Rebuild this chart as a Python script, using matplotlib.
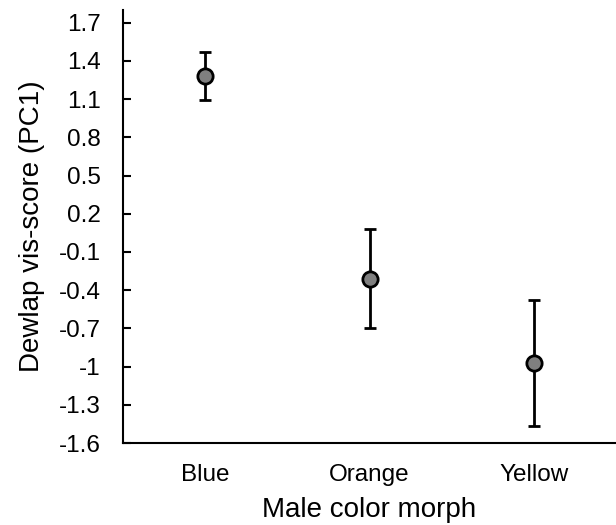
import numpy as np
import matplotlib
matplotlib.use('Agg')
import matplotlib.pyplot as plt

plt.rcParams['font.family'] = ['Liberation Sans', 'DejaVu Sans']

morphs = ['Blue', 'Orange', 'Yellow']
vis_score = [1.28, -0.31, -0.97]
err_low = [1.09, -0.70, -1.47]
err_high = [1.47, 0.08, -0.48]

yerr = [np.array(vis_score) - np.array(err_low), np.array(err_high) - np.array(vis_score)]
x = np.arange(len(morphs))
yticks = np.round(np.arange(-1.6, 1.71, 0.3), 1)

fig = plt.figure(figsize=(6.16, 5.25), dpi=100)
ax = fig.add_axes([123 / 616, 1 - 443 / 525, 493 / 616, (443 - 10) / 525])

ax.errorbar(x, vis_score, yerr=yerr, fmt='o', color='black', ecolor='black',
            elinewidth=2, capsize=4, capthick=2, markersize=11,
            markerfacecolor='#7f7f7f', markeredgecolor='black', markeredgewidth=2)

ax.set_xlim(-0.5, 2.5)
ax.set_ylim(-1.6, 1.8)
ax.set_yticks(yticks)
ax.set_yticklabels(['%g' % v for v in yticks])
ax.set_xticks(x)
ax.set_xticklabels(morphs)

ax.spines['top'].set_visible(False)
ax.spines['right'].set_visible(False)
ax.spines['left'].set_linewidth(1.5)
ax.spines['bottom'].set_linewidth(1.5)
ax.tick_params(axis='y', direction='in', length=6, width=1.5, labelsize=17.5, pad=16)
ax.tick_params(axis='x', length=0, labelsize=17.5, pad=15)

ax.set_xlabel('Male color morph', fontsize=20, labelpad=8)
ax.set_ylabel('Dewlap vis-score (PC1)', fontsize=20, labelpad=10)

fig.savefig('out.png', dpi=100)
